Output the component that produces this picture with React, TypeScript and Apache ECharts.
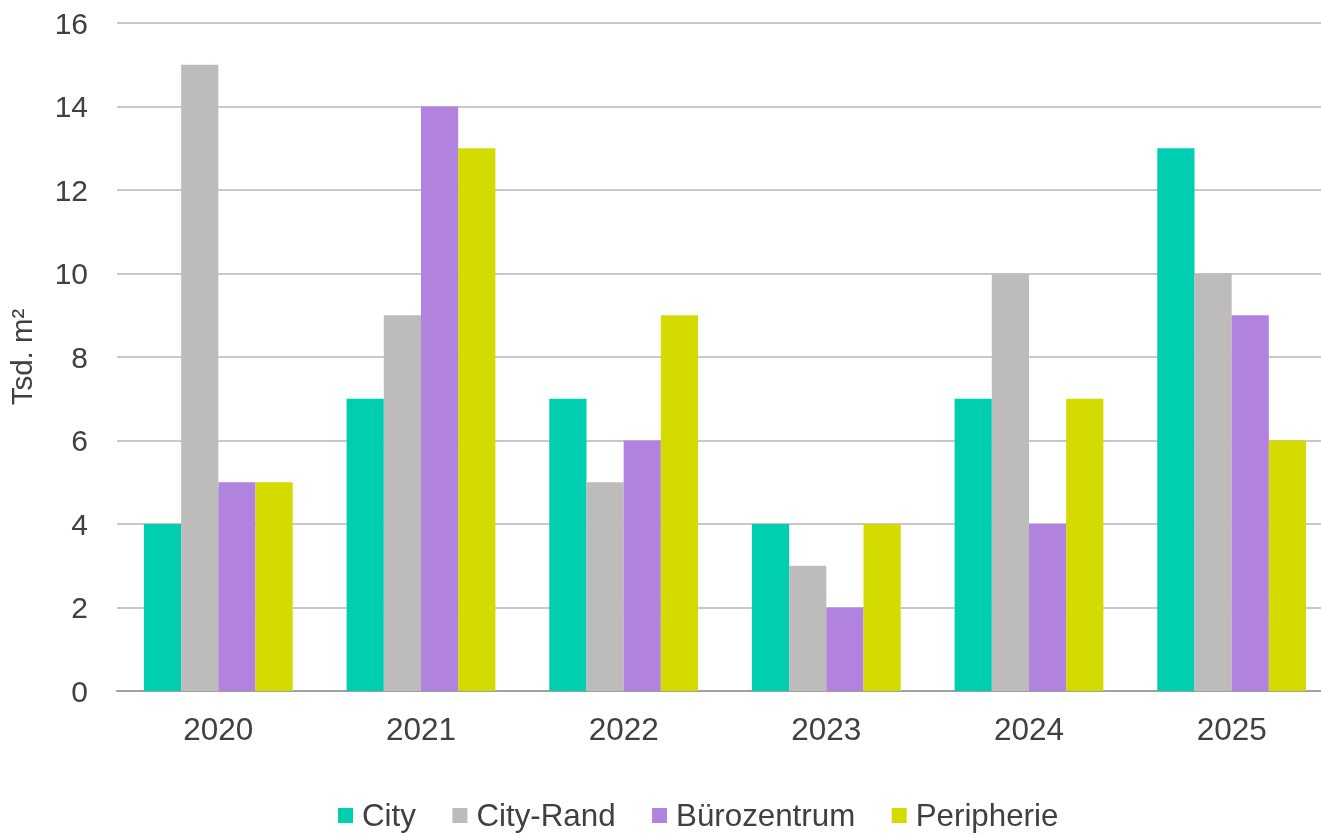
import React, { useEffect, useRef } from "react";
import * as echarts from "echarts";

const categories = ["2020", "2021", "2022", "2023", "2024", "2025"];
const seriesNames = ["City", "City-Rand", "Bürozentrum", "Peripherie"];
const cityValues = [4, 7, 7, 4, 7, 13];
const cityRandValues = [15, 9, 5, 3, 10, 10];
const bueroValues = [5, 14, 6, 2, 4, 9];
const peripherieValues = [5, 13, 9, 4, 7, 6];
const colors = ["#00CEB0", "#BDBCBA", "#B283DE", "#D3DB00"];
const yAxisName = "Tsd. m²";

export default function App() {
  const ref = useRef<HTMLDivElement>(null);
  useEffect(() => {
    if (!ref.current) return;
    const chart = echarts.init(ref.current, null, { renderer: "svg" });
    const values = [cityValues, cityRandValues, bueroValues, peripherieValues];
    const font = "'Liberation Sans', Arial, sans-serif";
    chart.setOption({
      animation: false,
      color: colors,
      textStyle: { fontFamily: font, color: "#404040" },
      grid: {
        left: 117,
        width: 1216,
        top: 23,
        bottom: 143,
        containLabel: false,
        outerBoundsMode: "none",
      },
      legend: {
        top: 800,
        left: 338,
        padding: 0,
        itemWidth: 15,
        itemHeight: 15,
        itemGap: 36.5,
        icon: "rect",
        textStyle: {
          fontSize: 31.3,
          lineHeight: 31,
          color: "#404040",
          fontFamily: font,
          padding: [0, 0, 0, 4],
        },
        data: seriesNames,
      },
      xAxis: {
        type: "category",
        data: categories,
        axisLine: { lineStyle: { color: "#A0A0A0", width: 2 } },
        axisTick: { show: false },
        axisLabel: { fontSize: 31.5, color: "#404040", margin: 22, fontFamily: font },
      },
      yAxis: {
        type: "value",
        min: 0,
        max: 16,
        interval: 2,
        name: yAxisName,
        nameLocation: "middle",
        nameGap: 81,
        nameRotate: 90,
        nameTextStyle: { fontSize: 29.5, color: "#404040", fontFamily: font },
        axisLine: { show: false },
        axisTick: { show: false },
        axisLabel: { fontSize: 30, color: "#404040", margin: 29, fontFamily: font },
        splitLine: { lineStyle: { color: "#C8C8C8", width: 2 } },
      },
      series: seriesNames.map((name, i) => ({
        name,
        type: "bar",
        data: values[i],
        barGap: "0%",
        barCategoryGap: "26.6%",
        itemStyle: { color: colors[i] },
      })),
    });
    return () => chart.dispose();
  }, []);
  return (
    <div
      ref={ref}
      style={{ position: "fixed", left: 0, top: 0, width: 1321, height: 834, overflow: "hidden" }}
    />
  );
}
